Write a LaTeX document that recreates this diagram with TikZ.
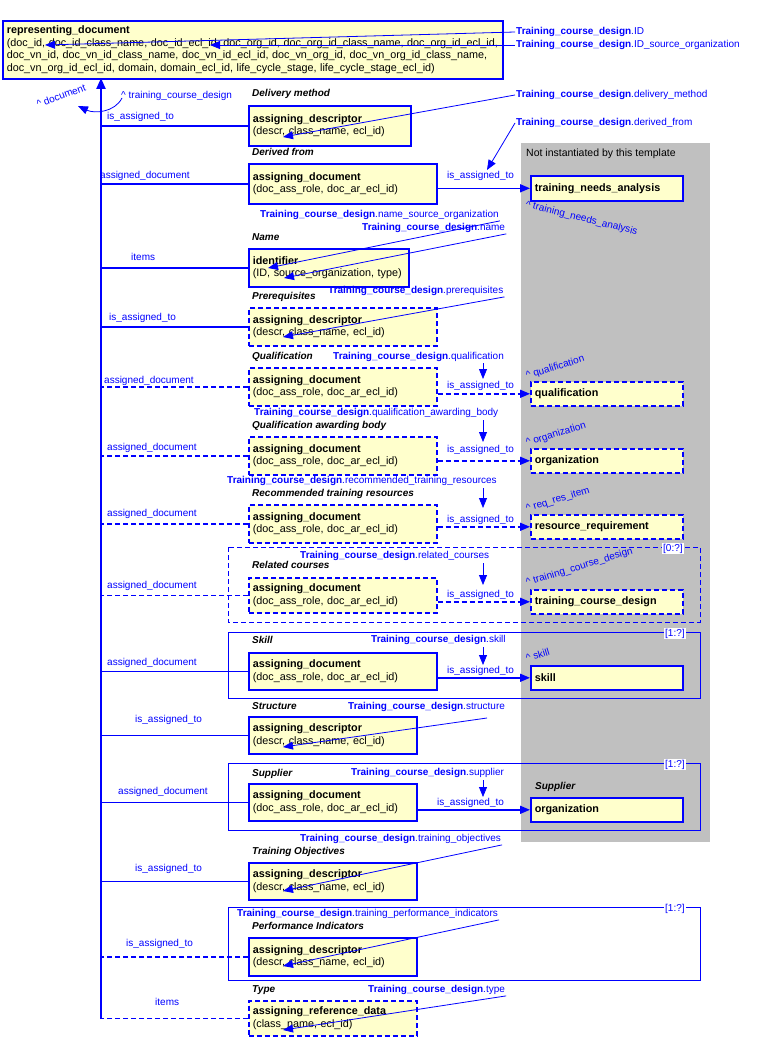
\documentclass[tikz,border=0pt]{standalone}
\usepackage{fontspec}
\setmainfont{Liberation Sans}
\usetikzlibrary{arrows.meta}
\definecolor{bl}{RGB}{0,0,255}
\definecolor{by}{RGB}{255,255,204}
\definecolor{gr}{RGB}{192,192,192}
\tikzset{
 x=1pt,y=-1pt,
 dsh/.style={dash pattern=on 5pt off 3pt},
 bx/.style={draw=bl,fill=by,line width=1.6pt,anchor=north west,align=left,inner sep=4pt,font=\fontsize{10.8}{12.5}\selectfont},
 dbx/.style={bx,dsh},
 lnk/.style={draw=bl,line width=1.6pt},
 dlnk/.style={lnk,dsh},
 ann/.style={draw=bl,line width=0.8pt,-{Triangle[length=10pt,width=8pt]}},
 atxt/.style={text=bl,font=\fontsize{10}{12}\selectfont,inner sep=1pt},
 rl/.style={text=bl,font=\fontsize{10}{12}\selectfont,anchor=base west,inner sep=0pt},
 sec/.style={font=\fontsize{10}{12}\selectfont\bfseries\itshape,anchor=base west,inner sep=0pt},
 frm/.style={draw=bl,line width=0.9pt},
}
\newcommand{\bxn}[8]{\node[#1,minimum width=#4-#2,minimum height=#5-#3,text width=#4-#2-8] (#6) at (#2,#3) {\textbf{#7}\\#8};}
\newcommand{\bxs}[7]{\node[#1,minimum width=#4-#2,minimum height=#5-#3,text width=#4-#2-8] (#6) at (#2,#3) {\textbf{#7}};}
\newcommand{\TCD}[1]{\textbf{Training\_course\_design}.#1}
\begin{document}
\begin{tikzpicture}
\useasboundingbox (0,0) rectangle (756,1038);
\fill[gr] (521,143) rectangle (710,842);
\node[anchor=north west,font=\fontsize{10.5}{12}\selectfont,inner sep=0pt] (ni) at (526,149) {Not instantiated by this template};
% frames
\draw[frm,dsh] (228,547) rectangle (700,622);
\node[rl,fill=white,inner sep=1pt] at (662,551) {[0:?]};
\draw[frm] (228,632) rectangle (700,698);
\node[rl,fill=white,inner sep=1pt] at (664,636) {[1:?]};
\draw[frm] (228,763) rectangle (700,830);
\node[rl,fill=white,inner sep=1pt] at (664,767) {[1:?]};
\draw[frm] (228,907) rectangle (700,980);
\node[rl,fill=white,inner sep=1pt] at (664,911) {[1:?]};
% main box
\node[bx,minimum width=500,minimum height=58,text width=492] (rd) at (2,20) {\textbf{representing\_document}\\(doc\_id, doc\_id\_class\_name, doc\_id\_ecl\_id, doc\_org\_id, doc\_org\_id\_class\_name, doc\_org\_id\_ecl\_id, doc\_vn\_id, doc\_vn\_id\_class\_name, doc\_vn\_id\_ecl\_id, doc\_vn\_org\_id, doc\_vn\_org\_id\_class\_name, doc\_vn\_org\_id\_ecl\_id, domain, domain\_ecl\_id, life\_cycle\_stage, life\_cycle\_stage\_ecl\_id)};
\coordinate (tt) at (101,78);
\coordinate (tb) at (101,1019);
\draw[lnk,line width=2.2pt,-{Triangle[length=11pt,width=9pt]}] (tb) -- (tt);
% boxes
\bxn{bx}{248}{105}{410}{145}{b1}{assigning\_descriptor}{(descr, class\_name, ecl\_id)}
\bxn{bx}{248}{163}{436}{203}{b2}{assigning\_document}{(doc\_ass\_role, doc\_ar\_ecl\_id)}
\bxs{bx}{530}{175}{682}{200}{t2}{training\_needs\_analysis}
\bxn{bx}{248}{248}{408}{286}{b3}{identifier}{(ID, source\_organization, type)}
\bxn{dbx}{248}{307}{436}{345}{b4}{assigning\_descriptor}{(descr, class\_name, ecl\_id)}
\bxn{dbx}{248}{367}{436}{405}{b5}{assigning\_document}{(doc\_ass\_role, doc\_ar\_ecl\_id)}
\bxs{dbx}{530}{381}{682}{405}{t5}{qualification}
\bxn{dbx}{248}{436}{436}{474}{b6}{assigning\_document}{(doc\_ass\_role, doc\_ar\_ecl\_id)}
\bxs{dbx}{530}{448}{682}{472}{t6}{organization}
\bxn{dbx}{248}{504}{436}{542}{b7}{assigning\_document}{(doc\_ass\_role, doc\_ar\_ecl\_id)}
\bxs{dbx}{530}{514}{682}{538}{t7}{resource\_requirement}
\bxn{dbx}{248}{577}{436}{612}{b8}{assigning\_document}{(doc\_ass\_role, doc\_ar\_ecl\_id)}
\bxs{dbx}{530}{589}{682}{613}{t8}{training\_course\_design}
\bxn{bx}{248}{652}{436}{689}{b9}{assigning\_document}{(doc\_ass\_role, doc\_ar\_ecl\_id)}
\bxs{bx}{530}{665}{682}{689}{t9}{skill}
\bxn{bx}{248}{716}{416}{753}{b10}{assigning\_descriptor}{(descr, class\_name, ecl\_id)}
\bxn{bx}{248}{783}{416}{820}{b11}{assigning\_document}{(doc\_ass\_role, doc\_ar\_ecl\_id)}
\bxs{bx}{530}{797}{682}{821}{t11}{organization}
\bxn{bx}{248}{862}{416}{899}{b12}{assigning\_descriptor}{(descr, class\_name, ecl\_id)}
\bxn{bx}{248}{937}{416}{975}{b13}{assigning\_descriptor}{(descr, class\_name, ecl\_id)}
\bxn{dbx}{248}{1000}{416}{1035}{b14}{assigning\_reference\_data}{(class\_name, ecl\_id)}
% section labels
\node[sec] at (252,97) {Delivery method};
\node[sec] at (252,155) {Derived from};
\node[sec] at (252,240) {Name};
\node[sec] at (252,299) {Prerequisites};
\node[sec] at (252,359) {Qualification};
\node[sec] at (252,428) {Qualification awarding body};
\node[sec] at (252,496) {Recommended training resources};
\node[sec] at (252,568) {Related courses};
\node[sec] at (252,643) {Skill};
\node[sec] at (252,709) {Structure};
\node[sec] at (252,776) {Supplier};
\node[sec] at (535,789) {Supplier};
\node[sec] at (252,854) {Training Objectives};
\node[sec] at (252,929) {Performance Indicators};
\node[sec] at (252,992) {Type};
% trunk links
\draw[lnk] (b1.west) -- (b1.west-|tt);
\node[rl] at (107,120) {is\_assigned\_to};
\draw[lnk] (b2.west) -- (b2.west-|tt);
\node[rl] at (100,178) {assigned\_document};
\draw[lnk] (b3.west) -- (b3.west-|tt);
\node[rl] at (131,260) {items};
\draw[lnk] (b4.west) -- (b4.west-|tt);
\node[rl] at (109,320) {is\_assigned\_to};
\draw[dlnk] (b5.west) -- (b5.west-|tt);
\node[rl] at (104,383) {assigned\_document};
\draw[dlnk] (b6.west) -- (b6.west-|tt);
\node[rl] at (107,450) {assigned\_document};
\draw[dlnk] (b7.west) -- (b7.west-|tt);
\node[rl] at (107,516) {assigned\_document};
\draw[dlnk] (b8.west) -- (b8.west-|tt);
\node[rl] at (107,588) {assigned\_document};
\draw[lnk] (b9.west) -- (b9.west-|tt);
\node[rl] at (107,665) {assigned\_document};
\draw[lnk] (b10.west) -- (b10.west-|tt);
\node[rl] at (135,722) {is\_assigned\_to};
\draw[lnk] (b11.west) -- (b11.west-|tt);
\node[rl] at (118,794) {assigned\_document};
\draw[lnk] (b12.west) -- (b12.west-|tt);
\node[rl] at (135,871) {is\_assigned\_to};
\draw[dlnk] (b13.west) -- (b13.west-|tt);
\node[rl] at (126,946) {is\_assigned\_to};
\draw[dlnk] (b14.west) -- (b14.west-|tt);
\node[rl] at (155,1005) {items};
% right links
\draw[lnk,-{Triangle[length=10pt,width=8pt]}] (b2.east|-t2.west) -- (t2.west);
\node[rl] at (447,178) {is\_assigned\_to};
\draw[dlnk,-{Triangle[length=10pt,width=8pt]}] (b5.east|-t5.west) -- (t5.west);
\node[rl] at (447,388) {is\_assigned\_to};
\draw[dlnk,-{Triangle[length=10pt,width=8pt]}] (b6.east|-t6.west) -- (t6.west);
\node[rl] at (447,452) {is\_assigned\_to};
\draw[dlnk,-{Triangle[length=10pt,width=8pt]}] (b7.east|-t7.west) -- (t7.west);
\node[rl] at (447,522) {is\_assigned\_to};
\draw[dlnk,-{Triangle[length=10pt,width=8pt]}] (b8.east|-t8.west) -- (t8.west);
\node[rl] at (447,597) {is\_assigned\_to};
\draw[lnk,-{Triangle[length=10pt,width=8pt]}] (b9.east|-t9.west) -- (t9.west);
\node[rl] at (447,673) {is\_assigned\_to};
\draw[lnk,-{Triangle[length=10pt,width=8pt]}] (b11.east|-t11.west) -- (t11.west);
\node[rl] at (437,805) {is\_assigned\_to};
% role labels
\node[rl,rotate=-14] at (525,207) {\^{} training\_needs\_analysis};
\node[rl,rotate=17] at (527,379) {\^{} qualification};
\node[rl,rotate=17] at (527,446) {\^{} organization};
\node[rl,rotate=17] at (527,512) {\^{} req\_res\_item};
\node[rl,rotate=17] at (527,586) {\^{} training\_course\_design};
\node[rl,rotate=17] at (527,662) {\^{} skill};
\node[rl,rotate=20] at (38,108) {\^{} document};
\node[rl] at (121,99) {\^{} training\_course\_design};
\coordinate (ca) at (122,98);
\coordinate (cb) at (78,106);
\draw[ann] (ca) .. controls (115,112) and (95,114) .. (cb);
% annotations
\node[atxt,anchor=west] (a1) at (515,32) {\TCD{ID}};
\coordinate (p1) at (45,45); \draw[ann] (a1.west) -- (p1);
\node[atxt,anchor=west] (a2) at (515,45) {\TCD{ID\_source\_organization}};
\coordinate (p2) at (210,45); \draw[ann] (a2.west) -- (p2);
\node[atxt,anchor=west] (a3) at (515,95) {\TCD{delivery\_method}};
\coordinate (p3) at (283,137); \draw[ann] (a3.west) -- (p3);
\node[atxt,anchor=west] (a4) at (515,123) {\TCD{derived\_from}};
\coordinate (p4) at (487,170); \draw[ann] (a4.west) -- (p4);
\node[atxt,anchor=west] (a5) at (259,215) {\TCD{name\_source\_organization}};
\coordinate (p5) at (268,268); \draw[ann] (a5.south east) -- (p5);
\node[atxt,anchor=west] (a6) at (361,228) {\TCD{name}};
\coordinate (p6) at (284,278); \draw[ann] (a6.south east) -- (p6);
\node[atxt,anchor=west] (a7) at (327,291) {\TCD{prerequisites}};
\coordinate (p7) at (283,337); \draw[ann] (a7.south east) -- (p7);
\node[atxt,anchor=west] (a8) at (332,357) {\TCD{qualification}};
\coordinate (p8) at (483,379); \draw[ann] (483,363) -- (p8);
\node[atxt,anchor=west] (a9) at (253,413) {\TCD{qualification\_awarding\_body}};
\coordinate (p9) at (483,442); \draw[ann] (483,420) -- (p9);
\node[atxt,anchor=west] (a10) at (226,481) {\TCD{recommended\_training\_resources}};
\coordinate (p10) at (483,508); \draw[ann] (483,488) -- (p10);
\node[atxt,anchor=west] (a11) at (299,556) {\TCD{related\_courses}};
\coordinate (p11) at (483,585); \draw[ann] (483,563) -- (p11);
\node[atxt,anchor=west] (a12) at (370,640) {\TCD{skill}};
\coordinate (p12) at (483,665); \draw[ann] (483,647) -- (p12);
\node[atxt,anchor=west] (a13) at (347,707) {\TCD{structure}};
\coordinate (p13) at (283,747); \draw[ann] (487,718) -- (p13);
\node[atxt,anchor=west] (a14) at (350,773) {\TCD{supplier}};
\coordinate (p14) at (483,797); \draw[ann] (483,780) -- (p14);
\node[atxt,anchor=west] (a15) at (299,839) {\TCD{training\_objectives}};
\coordinate (p15) at (283,891); \draw[ann] (a15.south east) -- (p15);
\node[atxt,anchor=west] (a16) at (236,914) {\TCD{training\_performance\_indicators}};
\coordinate (p16) at (283,966); \draw[ann] (a16.south east) -- (p16);
\node[atxt,anchor=west] (a17) at (367,990) {\TCD{type}};
\coordinate (p17) at (283,1030); \draw[ann] (a17.south east) -- (p17);
\end{tikzpicture}
\end{document}
